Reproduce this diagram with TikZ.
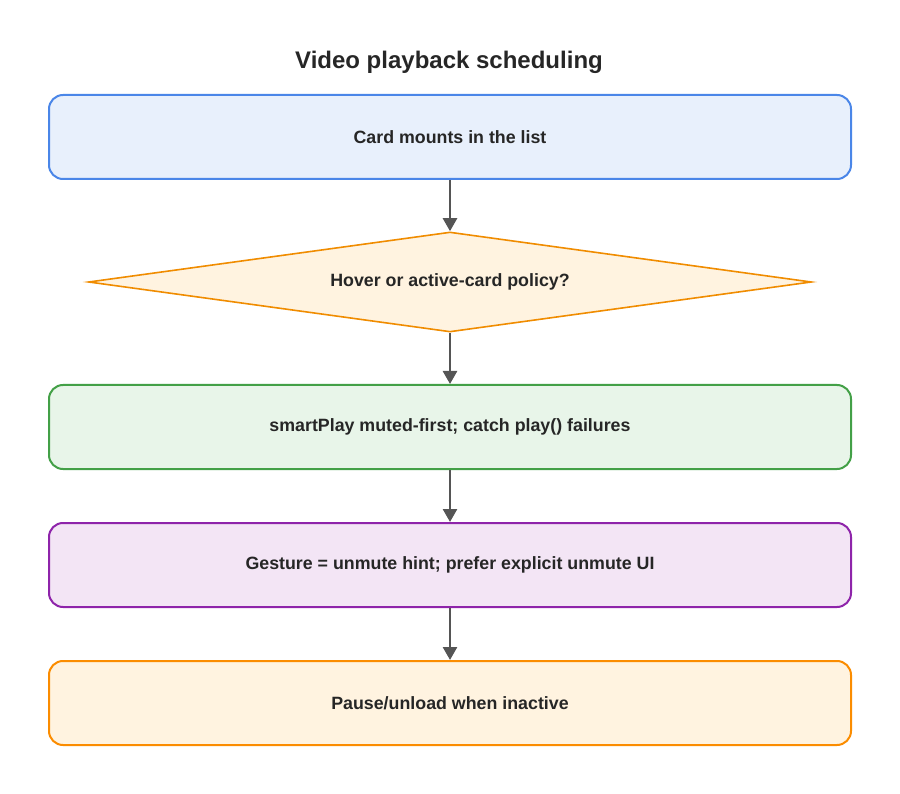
\documentclass[tikz,border=0pt]{standalone}
\usepackage{fontspec}
\setmainfont{Liberation Sans}
\usetikzlibrary{shapes.geometric,arrows.meta}
\definecolor{bS}{HTML}{4A86E8}\definecolor{bF}{HTML}{E8F0FC}
\definecolor{oS}{HTML}{F08C00}\definecolor{oF}{HTML}{FFF3E0}
\definecolor{gS}{HTML}{43A047}\definecolor{gF}{HTML}{E8F5E9}
\definecolor{pS}{HTML}{8E24AA}\definecolor{pF}{HTML}{F3E5F5}
\definecolor{aS}{HTML}{FB8C00}
\definecolor{ar}{HTML}{555555}
\begin{document}
\begin{tikzpicture}[x=1pt,y=-1pt,
 box/.style={draw,line width=2pt,rounded corners=14pt,minimum width=802pt,minimum height=84pt,font=\bfseries\fontsize{17.8}{21}\selectfont,text=black!85},
 arr/.style={draw=ar,line width=2.6pt,-{Triangle[length=13pt,width=14pt]}}]
\useasboundingbox (0,0) rectangle (900,794);
\node[font=\bfseries\fontsize{24}{28}\selectfont,text=black!85] (t) at (449,62) {Video playback scheduling};
\node[box,draw=bS,fill=bF] (a) at (450,137) {Card mounts in the list};
\node[diamond,draw=oS,fill=oF,line width=1.6pt,minimum width=723pt,minimum height=100pt,inner sep=0pt,aspect=7.23,font=\bfseries\fontsize{17.8}{21}\selectfont,text=black!85] (d) at (450,282) {Hover or active-card policy?};
\node[box,draw=gS,fill=gF] (b) at (450,427) {smartPlay muted-first; catch play() failures};
\node[box,draw=pS,fill=pF] (c) at (450,565) {Gesture = unmute hint; prefer explicit unmute UI};
\node[box,draw=aS,fill=oF] (e) at (450,703) {Pause/unload when inactive};
\draw[arr] (a) -- (d);
\draw[arr] (d) -- (b);
\draw[arr] (b) -- (c);
\draw[arr] (c) -- (e);
\end{tikzpicture}
\end{document}
